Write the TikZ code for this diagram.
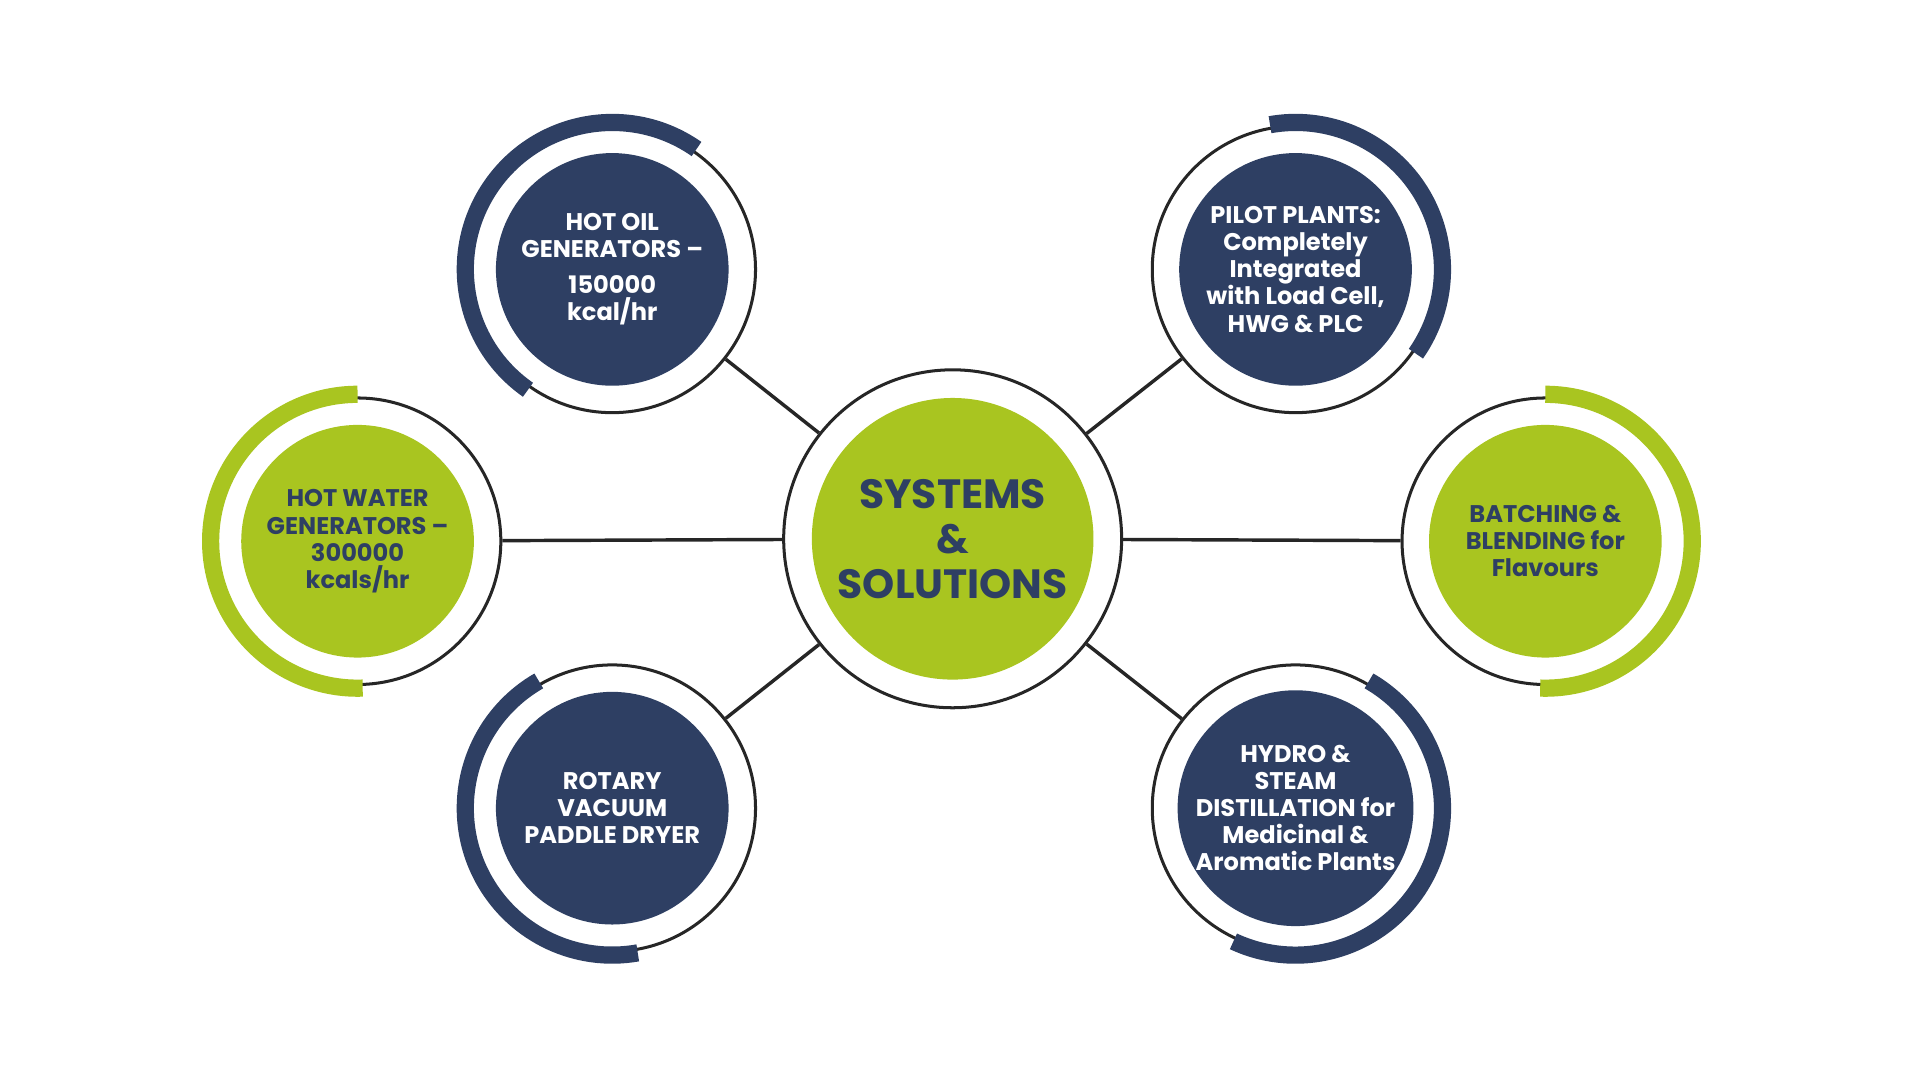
\documentclass[tikz,border=0pt]{standalone}
\usepackage{fontspec}
\setmainfont{Poppins}
\definecolor{navy}{HTML}{2E3F63}
\definecolor{lime}{HTML}{A9C520}
\tikzset{
  ring/.style={draw=black!85, line width=0.7pt, circle, fill=white, minimum size=2.34cm, inner sep=0pt},
  disc/.style={circle, fill=#1, minimum size=1.9cm, inner sep=0pt, text=white, align=center,
    font=\fontsize{5.6}{6.3}\selectfont\bfseries},
  band/.style={line width=4pt, #1},
  link/.style={draw=black!85, line width=0.8pt}
}
\begin{document}
\begin{tikzpicture}
\useasboundingbox (0,0) rectangle (15.68,8.82);
% links first
\coordinate (c) at (7.78,4.42);
\node[ring, minimum size=2.76cm] (core) at (c) {};
\node[ring] (oil) at (5.00,6.62) {};
\node[ring] (pilot) at (10.58,6.62) {};
\node[ring] (water) at (2.92,4.40) {};
\node[ring] (batch) at (12.62,4.40) {};
\node[ring] (rotary) at (5.00,2.22) {};
\node[ring] (hydro) at (10.58,2.22) {};
\foreach \n in {oil,pilot,water,batch,rotary,hydro}
  \draw[link] (core) -- (\n);
% outer bands
\draw[band=navy] ([shift=(55:1.2)]oil.center) arc (55:235:1.2);
\draw[band=navy] ([shift=(100:1.2)]pilot.center) arc (100:-35:1.2);
\draw[band=lime] ([shift=(90:1.2)]water.center) arc (90:272:1.2);
\draw[band=lime] ([shift=(90:1.2)]batch.center) arc (90:-92:1.2);
\draw[band=navy] ([shift=(120:1.2)]rotary.center) arc (120:280:1.2);
\draw[band=navy] ([shift=(60:1.2)]hydro.center) arc (60:-115:1.2);
% discs
\node[disc=lime, minimum size=2.3cm, text=navy, font=\fontsize{9.5}{10.5}\selectfont\bfseries] at (core) {SYSTEMS\\\&\\SOLUTIONS};
\node[disc=navy] at (oil) {HOT OIL\\GENERATORS –\\[2pt]150000\\kcal/hr};
\node[disc=navy] at (pilot) {PILOT PLANTS:\\Completely\\Integrated\\with Load Cell,\\HWG \& PLC};
\node[disc=lime, text=navy] at (water) {HOT WATER\\GENERATORS –\\300000\\kcals/hr};
\node[disc=lime, text=navy] at (batch) {BATCHING \&\\BLENDING for\\Flavours};
\node[disc=navy] at (rotary) {ROTARY\\VACUUM\\PADDLE DRYER};
\node[disc=navy] at (hydro) {HYDRO \&\\STEAM\\DISTILLATION for\\Medicinal \&\\Aromatic Plants};
\end{tikzpicture}
\end{document}
